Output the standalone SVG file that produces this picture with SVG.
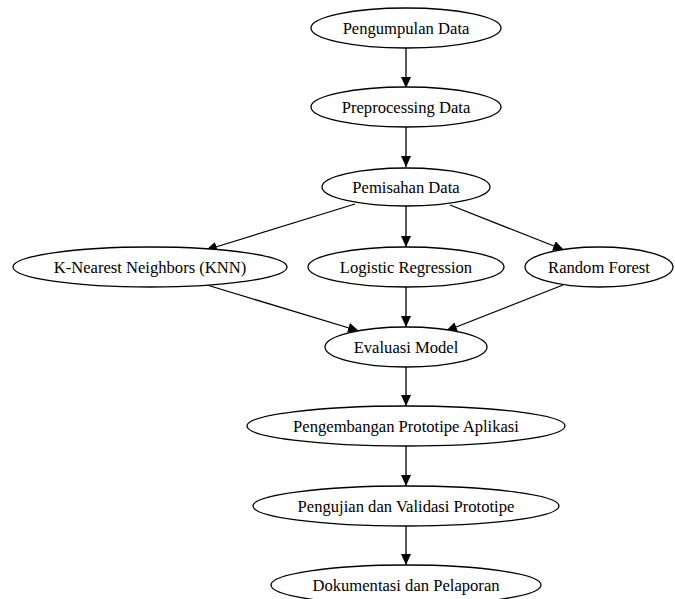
<svg xmlns="http://www.w3.org/2000/svg" width="675" height="599" viewBox="0 0 675 599">
<style>
.n ellipse{fill:#fff;stroke:#000;stroke-width:1.3}
.n text{font-family:"Liberation Serif","Times New Roman",serif;font-size:16.6px;fill:#000;text-anchor:middle;dominant-baseline:central}
#edges line{stroke:#000;stroke-width:1.3;marker-end:url(#ah)}
</style>
<defs>
<marker id="ah" markerUnits="userSpaceOnUse" viewBox="0 0 11 10" refX="11" refY="5" markerWidth="11" markerHeight="10" orient="auto">
<path d="M0,0 L11,5 L0,10 Z" fill="#000"/>
</marker>
</defs>
<rect width="675" height="599" fill="#fff"/>
<g id="edges">
<line x1="406" y1="48" x2="406" y2="88"/>
<line x1="406" y1="127" x2="406" y2="167"/>
<line x1="355" y1="204" x2="206" y2="250"/>
<line x1="406" y1="206" x2="406" y2="247"/>
<line x1="450" y1="205" x2="564" y2="250"/>
<line x1="207" y1="285" x2="359" y2="331"/>
<line x1="406" y1="287" x2="406" y2="327"/>
<line x1="563" y1="285" x2="446" y2="331"/>
<line x1="406" y1="367" x2="406" y2="406"/>
<line x1="406" y1="446" x2="406" y2="486"/>
<line x1="406" y1="526" x2="406" y2="565"/>
</g>
<g id="n1" class="n"><ellipse cx="406" cy="28" rx="95" ry="20"/><text x="406" y="28">Pengumpulan Data</text></g>
<g id="n2" class="n"><ellipse cx="406" cy="107" rx="95" ry="20"/><text x="406" y="107">Preprocessing Data</text></g>
<g id="n3" class="n"><ellipse cx="406" cy="187" rx="84" ry="19"/><text x="406" y="187">Pemisahan Data</text></g>
<g id="n4" class="n"><ellipse cx="150" cy="267" rx="137" ry="20"/><text x="150" y="267">K-Nearest Neighbors (KNN)</text></g>
<g id="n5" class="n"><ellipse cx="406" cy="267" rx="98" ry="20"/><text x="406" y="267">Logistic Regression</text></g>
<g id="n6" class="n"><ellipse cx="599" cy="267" rx="74" ry="20"/><text x="599" y="267">Random Forest</text></g>
<g id="n7" class="n"><ellipse cx="406" cy="347" rx="81" ry="20"/><text x="406" y="347">Evaluasi Model</text></g>
<g id="n8" class="n"><ellipse cx="406" cy="426" rx="159" ry="20"/><text x="406" y="426">Pengembangan Prototipe Aplikasi</text></g>
<g id="n9" class="n"><ellipse cx="406" cy="506" rx="153" ry="20"/><text x="406" y="506">Pengujian dan Validasi Prototipe</text></g>
<g id="n10" class="n"><ellipse cx="406" cy="585" rx="135" ry="20"/><text x="406" y="585">Dokumentasi dan Pelaporan</text></g>
</svg>
